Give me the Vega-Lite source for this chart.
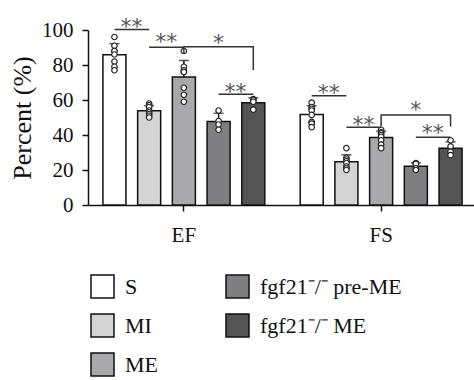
{
  "$schema": "https://vega.github.io/schema/vega-lite/v6.json",
  "autosize": {"type": "none"},
  "padding": {"left": 88, "top": 30, "right": 0, "bottom": 175},
  "width": 389,
  "height": 175,
  "background": "white",
  "config": {
    "view": {"stroke": null},
    "font": "Liberation Serif",
    "axis": {"domainColor": "#111", "domainWidth": 1.5, "tickColor": "#111", "tickWidth": 1.5, "tickSize": 6, "labelColor": "#111", "titleColor": "#111", "labelFont": "Liberation Serif", "titleFont": "Liberation Serif", "grid": false},
    "axisY": {"labelOverlap": false, "labelFontSize": 21, "labelPadding": 9, "titleFontSize": 26, "titleFontWeight": "normal", "titlePadding": 6, "tickCount": 6}
  },
  "datasets": {
    "pts": [
      {"g": "EF", "c": "S", "v": 96}, {"g": "EF", "c": "S", "v": 91}, {"g": "EF", "c": "S", "v": 88}, {"g": "EF", "c": "S", "v": 88},
      {"g": "EF", "c": "S", "v": 86}, {"g": "EF", "c": "S", "v": 82}, {"g": "EF", "c": "S", "v": 79}, {"g": "EF", "c": "S", "v": 77},
      {"g": "EF", "c": "MI", "v": 58}, {"g": "EF", "c": "MI", "v": 57}, {"g": "EF", "c": "MI", "v": 56}, {"g": "EF", "c": "MI", "v": 54},
      {"g": "EF", "c": "MI", "v": 53}, {"g": "EF", "c": "MI", "v": 52}, {"g": "EF", "c": "MI", "v": 51}, {"g": "EF", "c": "MI", "v": 50},
      {"g": "EF", "c": "ME", "v": 88}, {"g": "EF", "c": "ME", "v": 79}, {"g": "EF", "c": "ME", "v": 77}, {"g": "EF", "c": "ME", "v": 76},
      {"g": "EF", "c": "ME", "v": 76}, {"g": "EF", "c": "ME", "v": 67}, {"g": "EF", "c": "ME", "v": 63}, {"g": "EF", "c": "ME", "v": 59},
      {"g": "EF", "c": "fgf21⁻/⁻ pre-ME", "v": 54}, {"g": "EF", "c": "fgf21⁻/⁻ pre-ME", "v": 48}, {"g": "EF", "c": "fgf21⁻/⁻ pre-ME", "v": 46}, {"g": "EF", "c": "fgf21⁻/⁻ pre-ME", "v": 43},
      {"g": "EF", "c": "fgf21⁻/⁻ ME", "v": 60.5}, {"g": "EF", "c": "fgf21⁻/⁻ ME", "v": 60}, {"g": "EF", "c": "fgf21⁻/⁻ ME", "v": 59}, {"g": "EF", "c": "fgf21⁻/⁻ ME", "v": 54.5},
      {"g": "FS", "c": "S", "v": 58.5}, {"g": "FS", "c": "S", "v": 56}, {"g": "FS", "c": "S", "v": 55}, {"g": "FS", "c": "S", "v": 54},
      {"g": "FS", "c": "S", "v": 51.5}, {"g": "FS", "c": "S", "v": 47.5}, {"g": "FS", "c": "S", "v": 46.5}, {"g": "FS", "c": "S", "v": 44.5},
      {"g": "FS", "c": "MI", "v": 32.5}, {"g": "FS", "c": "MI", "v": 27}, {"g": "FS", "c": "MI", "v": 26}, {"g": "FS", "c": "MI", "v": 25},
      {"g": "FS", "c": "MI", "v": 24}, {"g": "FS", "c": "MI", "v": 22}, {"g": "FS", "c": "MI", "v": 21}, {"g": "FS", "c": "MI", "v": 20},
      {"g": "FS", "c": "ME", "v": 43}, {"g": "FS", "c": "ME", "v": 41.5}, {"g": "FS", "c": "ME", "v": 41}, {"g": "FS", "c": "ME", "v": 40},
      {"g": "FS", "c": "ME", "v": 39}, {"g": "FS", "c": "ME", "v": 37}, {"g": "FS", "c": "ME", "v": 34.5}, {"g": "FS", "c": "ME", "v": 32.5},
      {"g": "FS", "c": "fgf21⁻/⁻ pre-ME", "v": 24}, {"g": "FS", "c": "fgf21⁻/⁻ pre-ME", "v": 23.5}, {"g": "FS", "c": "fgf21⁻/⁻ pre-ME", "v": 21}, {"g": "FS", "c": "fgf21⁻/⁻ pre-ME", "v": 20},
      {"g": "FS", "c": "fgf21⁻/⁻ ME", "v": 37}, {"g": "FS", "c": "fgf21⁻/⁻ ME", "v": 33.5}, {"g": "FS", "c": "fgf21⁻/⁻ ME", "v": 30.5}, {"g": "FS", "c": "fgf21⁻/⁻ ME", "v": 28.5}
    ],
    "ann": [
      {"g": "EF", "seg": 1, "o": 1, "c": "S", "v": 100.3}, {"g": "EF", "seg": 1, "o": 2, "c": "MI", "v": 100.3},
      {"g": "EF", "seg": 2, "o": 1, "c": "MI", "v": 90.2}, {"g": "EF", "seg": 2, "o": 2, "c": "ME", "v": 90.2},
      {"g": "EF", "seg": 3, "o": 1, "c": "ME", "v": 86.7}, {"g": "EF", "seg": 3, "o": 2, "c": "ME", "v": 90.5},
      {"g": "EF", "seg": 3, "o": 3, "c": "fgf21⁻/⁻ ME", "v": 90.5}, {"g": "EF", "seg": 3, "o": 4, "c": "fgf21⁻/⁻ ME", "v": 77.1},
      {"g": "EF", "seg": 4, "o": 1, "c": "fgf21⁻/⁻ pre-ME", "v": 63.3}, {"g": "EF", "seg": 4, "o": 2, "c": "fgf21⁻/⁻ ME", "v": 63.3},
      {"g": "FS", "seg": 5, "o": 1, "c": "S", "v": 62.5}, {"g": "FS", "seg": 5, "o": 2, "c": "MI", "v": 62.5},
      {"g": "FS", "seg": 6, "o": 1, "c": "MI", "v": 44.4}, {"g": "FS", "seg": 6, "o": 2, "c": "ME", "v": 44.4},
      {"g": "FS", "seg": 7, "o": 1, "c": "ME", "v": 45.1}, {"g": "FS", "seg": 7, "o": 2, "c": "ME", "v": 51.4},
      {"g": "FS", "seg": 7, "o": 3, "c": "fgf21⁻/⁻ ME", "v": 51.4}, {"g": "FS", "seg": 7, "o": 4, "c": "fgf21⁻/⁻ ME", "v": 44.8},
      {"g": "FS", "seg": 8, "o": 1, "c": "fgf21⁻/⁻ pre-ME", "v": 38.7}, {"g": "FS", "seg": 8, "o": 2, "c": "fgf21⁻/⁻ ME", "v": 38.7}
    ],
    "stars": [
      {"g": "EF", "c": "S", "v": 105.7, "t": "**", "k": "pair"},
      {"g": "EF", "c": "MI", "v": 97.1, "t": "**", "k": "pair"},
      {"g": "EF", "c": "fgf21⁻/⁻ pre-ME", "v": 68.6, "t": "**", "k": "pair"},
      {"g": "FS", "c": "S", "v": 68, "t": "**", "k": "pair"},
      {"g": "FS", "c": "MI", "v": 49.5, "t": "**", "k": "pair"},
      {"g": "FS", "c": "fgf21⁻/⁻ pre-ME", "v": 45.1, "t": "**", "k": "pair"},
      {"g": "EF", "c": "fgf21⁻/⁻ pre-ME", "v": 96.6, "t": "*", "k": "bracket"},
      {"g": "FS", "c": "fgf21⁻/⁻ pre-ME", "v": 58.1, "t": "*", "k": "bracket"}
    ]
  },
  "encoding": {
    "x": {"field": "g", "type": "nominal", "scale": {"paddingInner": 0.028, "paddingOuter": 0}, "axis": {"title": null, "labelAngle": 0, "labelFontSize": 21, "labelPadding": 13}},
    "xOffset": {"field": "c", "type": "nominal", "scale": {"domain": ["S", "MI", "ME", "fgf21⁻/⁻ pre-ME", "fgf21⁻/⁻ ME"], "paddingInner": 0.337, "paddingOuter": 0.43}},
    "y": {"field": "v", "type": "quantitative", "scale": {"domain": [0, 100], "nice": false}, "axis": {"title": "Percent (%)", "values": [0, 20, 40, 60, 80, 100], "tickCount": 6}}
  },
  "layer": [
    {
      "data": {"name": "pts"},
      "mark": {"type": "errorbar", "extent": "stdev", "color": "#111", "ticks": {"size": 10, "thickness": 1.5, "color": "#111"}, "rule": {"strokeWidth": 1.5}}
    },
    {
      "data": {"name": "pts"},
      "mark": {"type": "bar", "stroke": "#111", "strokeWidth": 1.5},
      "encoding": {
        "y": {"aggregate": "mean", "field": "v", "type": "quantitative", "stack": null, "axis": {"title": "Percent (%)", "values": [0, 20, 40, 60, 80, 100], "tickCount": 6}},
        "color": {
          "field": "c", "type": "nominal",
          "scale": {"domain": ["S", "MI", "ME", "fgf21⁻/⁻ pre-ME", "fgf21⁻/⁻ ME"], "range": ["#ffffff", "#d4d4d4", "#a9a9ab", "#7f7f81", "#545454"]},
          "legend": {"title": null, "orient": "none", "legendX": 2, "legendY": 244, "columns": 2, "columnPadding": 65, "rowPadding": 10, "symbolType": "square", "symbolSize": 529, "symbolStrokeColor": "#111", "symbolStrokeWidth": 1.5, "symbolOpacity": 1, "labelFont": "Liberation Serif", "labelFontSize": 22, "labelColor": "#111", "labelOffset": 10, "labelLimit": 300, "padding": 0}
        }
      }
    },
    {
      "data": {"name": "pts"},
      "mark": {"type": "point", "shape": "circle", "filled": true, "fill": "white", "stroke": "#222", "strokeWidth": 1.2, "size": 30, "opacity": 1}
    },
    {
      "data": {"name": "ann"},
      "mark": {"type": "line", "stroke": "#333", "strokeWidth": 1.5, "clip": false},
      "encoding": {
        "detail": {"field": "seg"},
        "order": {"field": "o", "type": "quantitative"}
      }
    },
    {
      "data": {"name": "stars"},
      "transform": [{"filter": "datum.k === 'pair'"}],
      "mark": {"type": "text", "font": "DejaVu Sans", "fontSize": 22, "color": "#555", "baseline": "middle", "dx": 17, "dy": 7, "clip": false},
      "encoding": {"text": {"field": "t"}}
    },
    {
      "data": {"name": "stars"},
      "transform": [{"filter": "datum.k === 'bracket'"}],
      "mark": {"type": "text", "font": "DejaVu Sans", "fontSize": 22, "color": "#555", "baseline": "middle", "dy": 7, "clip": false},
      "encoding": {"text": {"field": "t"}}
    }
  ]
}
